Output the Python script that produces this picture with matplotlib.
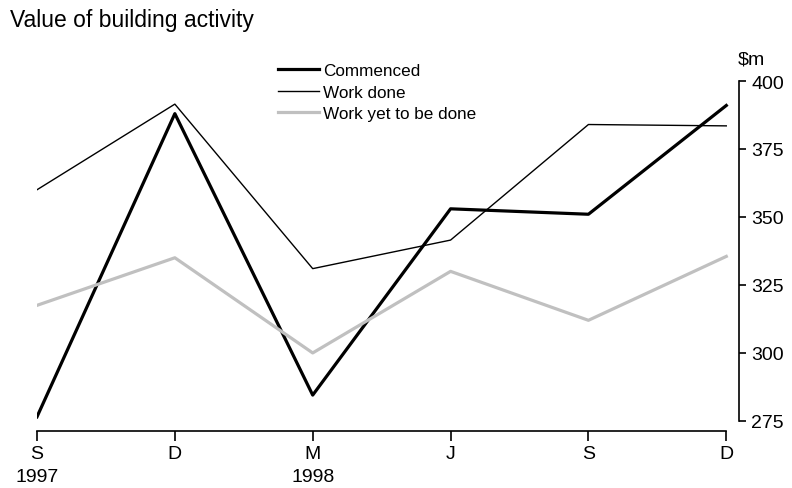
import matplotlib.pyplot as plt

plt.rcParams['font.family'] = ['Liberation Sans', 'DejaVu Sans']

# quarters, Sep 1997 - Dec 1998
quarters = ['S\n1997', 'D', 'M\n1998', 'J', 'S', 'D']
commenced = [276.5, 388, 284.5, 353, 351, 391]
work_done = [360, 391.5, 331, 341.5, 384, 383.5]
yet_to_be_done = [317.5, 335, 300, 330, 312, 335.5]

fig = plt.figure(figsize=(7.92, 4.89), dpi=100)
ax = fig.add_axes([0.0467, 0.1166, 0.886, 0.7157])

x = range(len(quarters))
ax.plot(x, commenced, color='black', lw=2.3, label='Commenced')
ax.plot(x, work_done, color='black', lw=1.0, label='Work done')
ax.plot(x, yet_to_be_done, color='#c0c0c0', lw=2.3, label='Work yet to be done')

ax.set_xlim(0, 5.09)
ax.set_ylim(271.3, 400)
ax.set_xticks(list(x))
ax.set_xticklabels(quarters, fontsize=14, linespacing=1.5, va='top')
ax.set_yticks([275, 300, 325, 350, 375, 400])
ax.yaxis.tick_right()
ax.tick_params(axis='y', direction='out', length=5, width=1.2, labelsize=14, pad=4)
ax.tick_params(axis='x', direction='out', length=7, width=1.2, pad=3)

ax.spines['left'].set_visible(False)
ax.spines['top'].set_visible(False)
ax.spines['right'].set_bounds(275, 400)
ax.spines['bottom'].set_bounds(0, 5)
ax.spines['right'].set_linewidth(1.2)
ax.spines['bottom'].set_linewidth(1.2)

fig.text(0.932, 0.877, '$m', fontsize=14, ha='left', va='center')
fig.text(0.0126, 0.959, 'Value of building activity', fontsize=16.5, ha='left', va='center')

ax.legend(loc='upper left', bbox_to_anchor=(0.334, 1.07), frameon=False, fontsize=12.3,
          handlelength=2.4, handletextpad=0.25, labelspacing=0.38, borderaxespad=0)

fig.savefig('out.png', dpi=100)
